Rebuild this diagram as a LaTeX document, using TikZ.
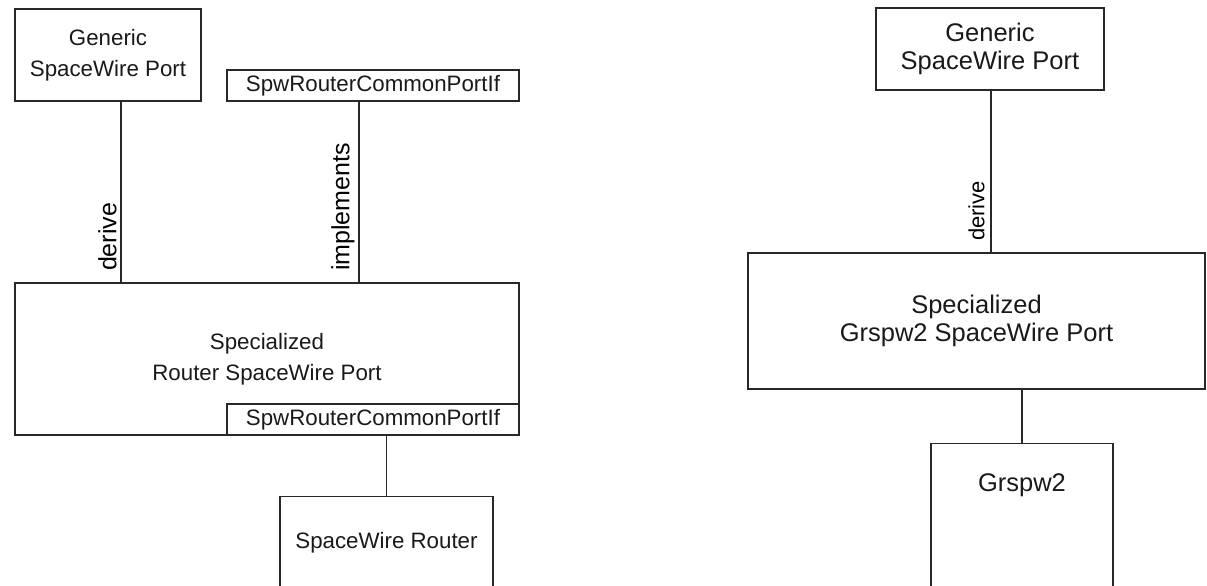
\documentclass[tikz,border=0pt]{standalone}
\usepackage{fontspec}
\setmainfont{Liberation Sans}
\usetikzlibrary{positioning,calc}
\definecolor{LineGray}{RGB}{40,40,40}
\tikzset{
  unitbox/.style={draw=LineGray, line width=0.65pt, inner sep=0pt, align=center, text=black!90},
  fontL/.style={font=\fontsize{11.15}{15.5}\selectfont},
  fontR/.style={font=\fontsize{12.75}{13.7}\selectfont},
  ifbox/.style={unitbox, fontL, minimum width=146pt, minimum height=15.5pt},
  lblL/.style={rotate=90, anchor=south west, inner sep=2pt, font=\fontsize{12.5}{14}\selectfont},
  lblR/.style={rotate=90, anchor=south west, inner sep=3pt, font=\fontsize{11}{13}\selectfont},
  link/.style={draw=LineGray, line width=0.65pt}
}

\begin{document}
\begin{tikzpicture}[x=0.5pt,y=-0.5pt]
\clip (0,0) rectangle (1207,585);
% Router side
\node[unitbox, fontL, minimum width=93pt, minimum height=46pt] (genL) at (108,55) {Generic\\SpaceWire Port};
\node[ifbox] (ifTop) at (373,85.5) {SpwRouterCommonPortIf};
\node[unitbox, fontL, minimum width=252pt, minimum height=76pt] (specL) at (267,359) {Specialized\\Router SpaceWire Port};
\node[ifbox, anchor=south east] (ifBot) at (specL.south east) {SpwRouterCommonPortIf};
\node[unitbox, fontL, anchor=north, minimum width=106.5pt, inner ysep=0pt, text height=26pt, text depth=40pt] (router) at (386.5,496) {SpaceWire Router};
\draw[link] ([xshift=6.5pt]genL.south) coordinate (dL) -- (dL |- specL.north);
\draw[link] ([xshift=-7pt]ifTop.south) coordinate (iL) -- (iL |- specL.north);
\draw[link] (router.north) -- (router.north |- ifBot.south);
\node[lblL] (derL) at ($(dL |- specL.north)+(0,-7)$) {derive};
\node[lblL] (implL) at ($(iL |- specL.north)+(0,-7)$) {implements};
% Grspw2 side
\node[unitbox, fontR, minimum width=114pt, minimum height=41pt] (genR) at (990,49) {Generic\\SpaceWire Port};
\node[unitbox, fontR, minimum width=228.5pt, minimum height=68pt] (specR) at (976.5,321) {Specialized\\Grspw2 SpaceWire Port};
\node[unitbox, fontR, anchor=north, minimum width=91pt, inner ysep=0pt, text height=24pt, text depth=50pt] (grspw) at (1022,443) {Grspw2};
\draw[link] ([xshift=0.5pt]genR.south) coordinate (dR) -- (dR |- specR.north);
\draw[link] (grspw.north) -- (grspw.north |- specR.south);
\node[lblR] (derR) at ($(dR |- specR.north)+(0,-5)$) {derive};
\end{tikzpicture}
\end{document}
